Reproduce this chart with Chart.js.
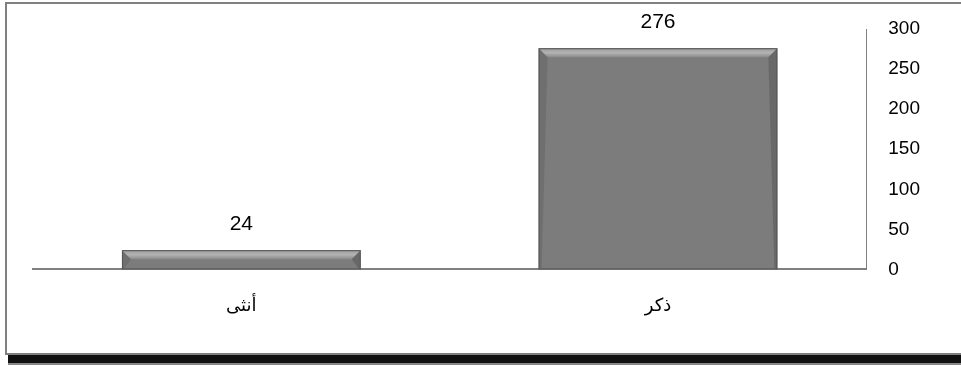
<!DOCTYPE html>
<html>
<head>
<meta charset="utf-8">
<script src="https://cdn.jsdelivr.net/npm/chart.js@4.4.1/dist/chart.umd.min.js"></script>
<style>
  html, body { margin: 0; padding: 0; background: #fff; }
  #wrap { position: relative; width: 961px; height: 366px; overflow: hidden; }
  #frame {
    position: absolute; left: 5px; top: 2px; width: 1000px; height: 349px;
    border: 2px solid #808080;
    box-shadow: 2px 9px 0 -1px #111, 2px 11px 0 -1px #888;
  }
  #chartGenero { position: absolute; left: 0; top: 0; }
</style>
</head>
<body>
<div id="wrap">
  <div id="frame"></div>
  <canvas id="chartGenero" width="961" height="366"></canvas>
</div>
<script>
// datos
const categorias = ['ذكر', 'أنثى'];
const valores = [276, 24];
const ticksY = [0, 50, 100, 150, 200, 250, 300];

const fuente = '"Liberation Sans", Arial, sans-serif';

// etiquetas encima de las barras + bisel
const etiquetas = {
  id: 'etiquetas',
  afterDatasetsDraw(chart) {
    const c = chart.ctx;
    const meta = chart.getDatasetMeta(0);
    meta.data.forEach((bar, i) => {
      const x0 = bar.x - bar.width / 2, x1 = bar.x + bar.width / 2;
      const yTop = bar.y, yBot = bar.base;
      // bisel superior
      const b = Math.min(9, (yBot - yTop) / 2);
      c.save();
      let g = c.createLinearGradient(0, yTop, 0, yTop + b);
      g.addColorStop(0, '#9a9a9a');
      g.addColorStop(0.5, '#b4b4b4');
      g.addColorStop(1, '#8a8a8a');
      c.fillStyle = g;
      c.beginPath();
      c.moveTo(x0, yTop); c.lineTo(x1, yTop); c.lineTo(x1 - b, yTop + b); c.lineTo(x0 + b, yTop + b);
      c.closePath(); c.fill();
      // lados
      c.fillStyle = 'rgba(60,60,60,0.3)';
      c.beginPath();
      c.moveTo(x1, yTop); c.lineTo(x1, yBot); c.lineTo(x1 - 3, yBot - 2); c.lineTo(x1 - b, yTop + b);
      c.closePath(); c.fill();
      c.fillStyle = 'rgba(60,60,60,0.2)';
      c.beginPath();
      c.moveTo(x0, yTop); c.lineTo(x0, yBot); c.lineTo(x0 + 3, yBot - 2); c.lineTo(x0 + b, yTop + b);
      c.closePath(); c.fill();
      c.strokeStyle = '#555';
      c.lineWidth = 1;
      c.strokeRect(x0 + 0.5, yTop + 0.5, bar.width - 1, yBot - yTop - 1);
      // valor
      c.fillStyle = '#000';
      c.font = '21px ' + fuente;
      c.textAlign = 'center';
      c.textBaseline = 'middle';
      c.fillText(valores[i], bar.x, yTop - 26);
      c.restore();
    });
  }
};

const chartGenero = new Chart(document.getElementById('chartGenero').getContext('2d'), {
  type: 'bar',
  data: {
    labels: categorias,
    datasets: [{
      data: valores,
      backgroundColor: '#7c7c7c',
      borderWidth: 0,
      barPercentage: 0.573,
      categoryPercentage: 1
    }]
  },
  options: {
    responsive: false,
    animation: false,
    events: [],
    layout: { padding: { left: 33, top: 29, right: 27, bottom: 31 } },
    plugins: { legend: { display: false }, tooltip: { enabled: false } },
    scales: {
      x: {
        reverse: true,
        grid: { display: false },
        border: { display: true, color: '#808080', width: 2 },
        ticks: { color: '#000', padding: 18, font: { family: '"DejaVu Sans", Arial, sans-serif', size: 18 } }
      },
      y: {
        position: 'right',
        min: 0,
        max: 300,
        afterBuildTicks(axis) { axis.ticks = ticksY.map(v => ({ value: v })); },
        grid: { display: false },
        border: { display: true, color: '#808080', width: 1 },
        ticks: { color: '#000', padding: 14, font: { family: fuente, size: 19 } }
      }
    }
  },
  plugins: [etiquetas]
});
</script>
</body>
</html>
